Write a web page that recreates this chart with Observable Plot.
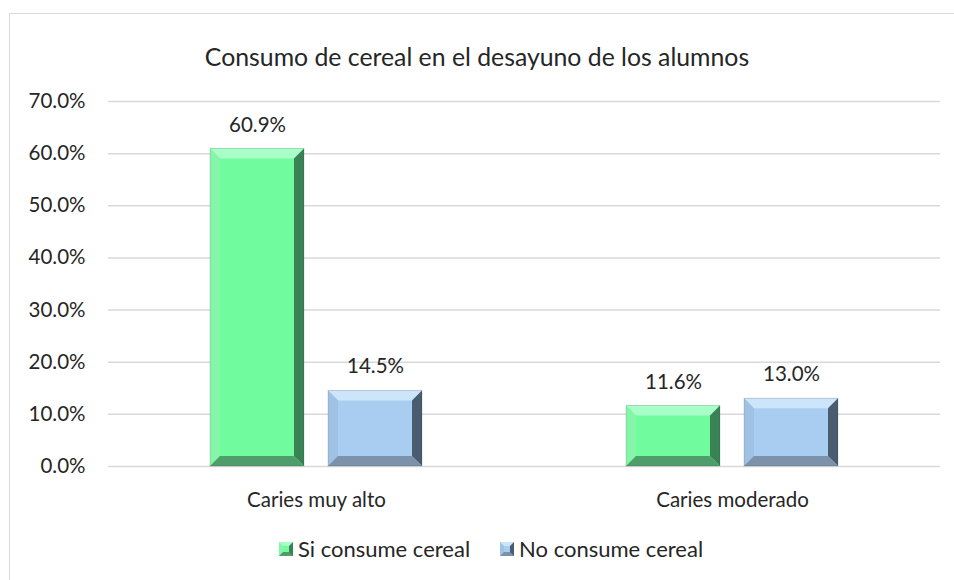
<!DOCTYPE html>
<html>
<head>
<meta charset="utf-8">
<script src="https://cdn.jsdelivr.net/npm/d3@7"></script>
<script src="https://cdn.jsdelivr.net/npm/@observablehq/plot@0.6"></script>
<style>
  html, body { margin: 0; padding: 0; width: 954px; height: 580px; overflow: hidden; background: #fff; font-family: Lato, "Open Sans", sans-serif; color: #262626; }
  #frame { position: absolute; left: 9px; top: 13px; width: 980px; height: 620px; border: 1.5px solid #d9d9d9; box-sizing: border-box; }
  #title { position: absolute; left: 0; top: 41px; width: 954px; text-align: center; font-size: 24.8px; line-height: 32px; }
  #chart { position: absolute; left: 0; top: 80px; }
  #legend { position: absolute; left: 14px; top: 535px; width: 954px; display: flex; justify-content: center; gap: 30px; font-size: 22px; line-height: 28px; }
  .item { display: flex; align-items: center; }
  .sw { width: 14px; height: 14px; box-sizing: border-box; border-style: solid; border-width: 4px; margin-right: 5px; }
</style>
</head>
<body>
<div id="frame"></div>
<div id="title"></div>
<div id="chart"></div>
<div id="legend"></div>
<script>
const titleText = "Consumo de cereal en el desayuno de los alumnos";
const categories = ["Caries muy alto", "Caries moderado"];
const series = ["Si consume cereal", "No consume cereal"];
const siValues = [0.609, 0.116];
const noValues = [0.145, 0.130];
const yTicks = [0, 0.1, 0.2, 0.3, 0.4, 0.5, 0.6, 0.7];

const faceColors = ["#70fc9e", "#a9cdf0"];
const bevel = {
  "#70fc9e": {top: "#a8ffc8", left: "#84f5a9", right: "#3a8256", bottom: "#4f9d6a"},
  "#a9cdf0": {top: "#cde5fa", left: "#9fc2e4", right: "#4a5c70", bottom: "#7b92aa"}
};

const data = categories.flatMap((c, i) => [
  {cat: c, serie: series[0], value: siValues[i]},
  {cat: c, serie: series[1], value: noValues[i]}
]);

document.getElementById("title").textContent = titleText;

const fmt = d3.format(".1%");

const chart = Plot.plot({
  width: 954,
  height: 450,
  marginTop: 21,
  marginBottom: 64,
  marginLeft: 108,
  marginRight: 14,
  style: {fontFamily: "Lato, 'Open Sans', sans-serif", fontSize: "20.5px", color: "#262626", background: "transparent", overflow: "visible"},
  fx: {domain: categories, padding: 0, label: null, axis: "bottom", tickSize: 0, tickPadding: 26},
  x: {domain: series, paddingInner: 0.2, paddingOuter: 0.86, axis: null},
  y: {domain: [0, 0.7], ticks: yTicks, tickFormat: fmt, tickSize: 0, tickPadding: 23, label: null},
  color: {domain: series, range: faceColors},
  marks: [
    Plot.frame({stroke: "none"}),
    Plot.ruleY(yTicks, {stroke: "#d9d9d9", strokeWidth: 1.5, facet: "exclude"}),
    Plot.barY(data, {fx: "cat", x: "serie", y: "value", fill: "serie"}),
    Plot.text(data, {fx: "cat", x: "serie", y: "value", text: d => fmt(d.value), dy: -24, fontSize: 20.5, fill: "#262626"})
  ]
});

// Add bevel shading to every bar rect, using positions the library computed
chart.querySelectorAll('g[aria-label="bar"] rect').forEach(r => {
  const x = +r.getAttribute("x"), y = +r.getAttribute("y");
  const w = +r.getAttribute("width"), h = +r.getAttribute("height");
  const fill = r.getAttribute("fill");
  const c = bevel[fill];
  if (!c) return;
  const b = Math.min(10, w / 2, h / 2);
  const ns = "http://www.w3.org/2000/svg";
  const polys = [
    [c.top, [[x, y], [x + w, y], [x + w - b, y + b], [x + b, y + b]]],
    [c.left, [[x, y], [x + b, y + b], [x + b, y + h - b], [x, y + h]]],
    [c.right, [[x + w, y], [x + w, y + h], [x + w - b, y + h - b], [x + w - b, y + b]]],
    [c.bottom, [[x, y + h], [x + w, y + h], [x + w - b, y + h - b], [x + b, y + h - b]]]
  ];
  polys.forEach(([col, pts]) => {
    const p = document.createElementNS(ns, "polygon");
    p.setAttribute("points", pts.map(q => q.join(",")).join(" "));
    p.setAttribute("fill", col);
    r.parentNode.appendChild(p);
  });
  const o = document.createElementNS(ns, "rect");
  o.setAttribute("x", x); o.setAttribute("y", y);
  o.setAttribute("width", w); o.setAttribute("height", h);
  o.setAttribute("fill", "none"); o.setAttribute("stroke", "#00000022"); o.setAttribute("stroke-width", 1);
  r.parentNode.appendChild(o);
});

document.getElementById("chart").appendChild(chart);

const legend = document.getElementById("legend");
series.forEach((s, i) => {
  const c = bevel[faceColors[i]];
  const item = document.createElement("div");
  item.className = "item";
  const sw = document.createElement("div");
  sw.className = "sw";
  sw.style.background = faceColors[i];
  sw.style.borderColor = `${c.top} ${c.right} ${c.bottom} ${c.left}`;
  const t = document.createElement("span");
  t.textContent = s;
  item.appendChild(sw); item.appendChild(t);
  legend.appendChild(item);
});
</script>
</body>
</html>
